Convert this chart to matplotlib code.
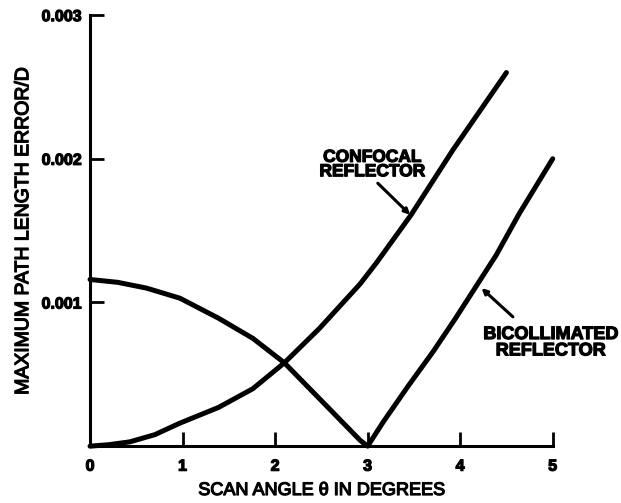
import numpy as np
import matplotlib.pyplot as plt
import matplotlib.patheffects as pe

plt.rcParams['font.family'] = ['Liberation Sans', 'DejaVu Sans']
plt.rcParams['font.weight'] = 'bold'

# valores (angulo en grados, error / D)
confocal_x = [0, 0.2, 0.43, 0.7, 0.97, 1.39, 1.76, 2.1, 2.48, 2.92, 3.1, 3.47, 3.92, 4.5]
confocal_y = [0, 0.00001, 0.00003, 0.00008, 0.00016, 0.00027, 0.00040, 0.00058,
              0.00082, 0.00113, 0.00128, 0.00161, 0.00206, 0.00260]

bicol_x = [0, 0.3, 0.61, 0.97, 1.39, 1.76, 2.1, 2.48, 2.92, 3.0,
           3.17, 3.44, 3.71, 3.95, 4.15, 4.39, 4.64, 5.0]
bicol_y = [0.00116, 0.00114, 0.00110, 0.00103, 0.00089, 0.00075, 0.00058, 0.00033,
           0.00004, 0, 0.00017, 0.00042, 0.00066, 0.00089, 0.00109, 0.00133,
           0.00162, 0.00200]

xticks = [0, 1, 2, 3, 4, 5]
yticks = [0.001, 0.002, 0.003]
ytick_labels = ['0.001', '0.002', '0.003']

bold = [pe.withStroke(linewidth=0.9, foreground='black')]

fig = plt.figure(figsize=(6.21, 5.03), dpi=100)
ax = fig.add_axes([0.145, 0.113, 0.745, 0.857])

ax.plot(confocal_x, confocal_y, color='black', lw=3.6, clip_on=False,
        solid_capstyle='round', solid_joinstyle='round')
ax.plot(bicol_x, bicol_y, color='black', lw=3.6, clip_on=False,
        solid_capstyle='round', solid_joinstyle='round')

# etiquetas y flechas
ax.text(3.05, 0.00196, 'CONFOCAL\nREFLECTOR', ha='center', va='center',
        fontsize=12.5, linespacing=0.95, path_effects=bold)
ax.annotate('', xy=(3.46, 0.00161), xytext=(3.11, 0.00183),
            arrowprops=dict(arrowstyle='-|>', color='black', lw=2.2,
                            mutation_scale=8, shrinkA=0, shrinkB=0),
            annotation_clip=False)

ax.text(4.98, 0.00072, 'BICOLLIMATED\nREFLECTOR', ha='center', va='center',
        fontsize=13, linespacing=0.95, path_effects=bold, clip_on=False)
ax.annotate('', xy=(4.23, 0.00110), xytext=(4.57, 0.00090),
            arrowprops=dict(arrowstyle='-|>', color='black', lw=2.2,
                            mutation_scale=8, shrinkA=0, shrinkB=0),
            annotation_clip=False)

ax.set_xlim(0, 5)
ax.set_ylim(0, 0.003)
ax.set_xticks(xticks)
ax.set_xticklabels([str(t) for t in xticks])
ax.set_yticks(yticks)
ax.set_yticklabels(ytick_labels)
for lab in ax.get_xticklabels() + ax.get_yticklabels():
    lab.set_path_effects(bold)

for s in ['top', 'right']:
    ax.spines[s].set_visible(False)
for s in ['left', 'bottom']:
    ax.spines[s].set_linewidth(2.2)
    ax.spines[s].set_capstyle('projecting')

ax.tick_params(axis='both', direction='in', length=10, width=2, labelsize=11.5)
ax.tick_params(axis='x', pad=9)
ax.tick_params(axis='y', pad=6)

ax.set_xlabel('SCAN ANGLE θ IN DEGREES', fontsize=13, labelpad=6, path_effects=bold)
ax.set_ylabel('MAXIMUM PATH LENGTH ERROR/D', fontsize=14, path_effects=bold)
ax.yaxis.set_label_coords(-0.125, 0.50)

fig.savefig('out.png', dpi=100)
